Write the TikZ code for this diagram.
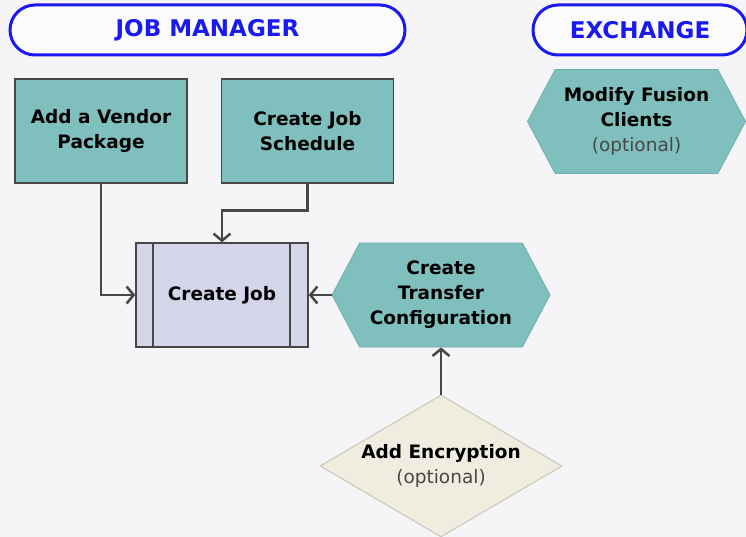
\documentclass[tikz,border=0pt]{standalone}
\usepackage{fontspec}
\setmainfont{DejaVu Sans}
\usetikzlibrary{arrows.meta}
\usetikzlibrary{shapes.geometric,shapes.symbols}
\definecolor{bgcol}{HTML}{F5F5F8}
\definecolor{teal}{HTML}{7FBFBD}
\definecolor{tealedge}{HTML}{6DAEAC}
\definecolor{lavender}{HTML}{D5D5EA}
\definecolor{sand}{HTML}{EFECE0}
\definecolor{sandedge}{HTML}{C9C6B6}
\definecolor{headblue}{HTML}{1A1AF0}
\definecolor{linegray}{HTML}{474747}

\begin{document}
\begin{tikzpicture}[x=1pt,y=-1pt,
    >={Straight Barb[length=7pt,width=17pt]},
    lane/.style={draw=headblue, line width=3pt, fill=white!60!bgcol, rounded corners=25pt,
      minimum height=50pt, inner sep=0pt, text=headblue,
      font=\fontsize{23}{28}\selectfont\bfseries},
    taskbox/.style={draw=linegray, line width=1.5pt, fill=teal, minimum width=172pt,
      minimum height=104pt, inner sep=0pt, align=center,
      font=\fontsize{18.5}{25}\selectfont\bfseries},
    procbox/.style={taskbox, fill=lavender,
      path picture={
        \draw[linegray, line width=1.5pt]
          ([xshift=17pt]path picture bounding box.north west) -- ([xshift=17pt]path picture bounding box.south west)
          ([xshift=-18pt]path picture bounding box.north east) -- ([xshift=-18pt]path picture bounding box.south east);
      }},
    hexbox/.style={signal, signal to=west and east, signal pointer angle=124,
      draw=tealedge, line width=0.8pt, fill=teal, minimum width=218pt, minimum height=104pt,
      inner sep=0pt, align=center, font=\fontsize{18.5}{25}\selectfont\bfseries},
    decide/.style={diamond, draw=sandedge, line width=1pt, fill=sand, aspect=1.7,
      minimum width=242pt, minimum height=142pt, inner sep=0pt, align=center,
      font=\fontsize{18.5}{25}\selectfont\bfseries},
    link/.style={->, draw=linegray, line width=2.5pt}]

      % background
      \fill[bgcol] (0,0) rectangle (746,537);
      \useasboundingbox (0,0) rectangle (746,537);

      % lane headers
      \node[lane, minimum width=395pt] (jobmgr) at (207.5,30) {JOB MANAGER};
      \node[lane, minimum width=214pt] (exch) at (640,30) {EXCHANGE};

      % tasks
      \node[taskbox] (vendor) at (101,131) {Add a Vendor\\Package};
      \node[taskbox] (sched) at (307.5,131) {Create Job\\Schedule};
      \node[procbox] (job) at (222,295) {Create Job};
      \node[hexbox] (fusion) at (636.5,121.5) {Modify Fusion\\Clients\\{\color{linegray}\mdseries(optional)}};
      \node[hexbox] (transfer) at (441,295) {Create\\Transfer\\Configuration};
      \node[decide] (crypt) at (441,466) {Add Encryption\\{\color{linegray}\mdseries(optional)}};

      % connectors
      \draw[link] (vendor.south) |- (job.west);
      \draw[link] (sched.south) -- ++(0,27) -| (job.north);
      \draw[link] (transfer.west) -- (job.east);
      \draw[link] (crypt.north) -- (transfer.south);
    \end{tikzpicture}
\end{document}
